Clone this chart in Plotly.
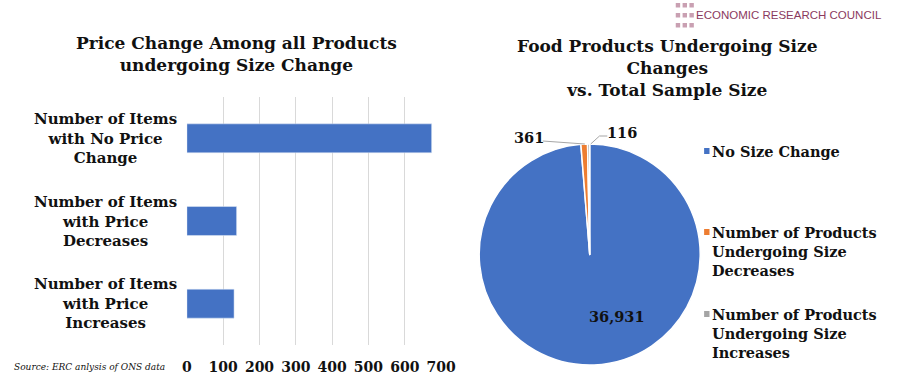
import plotly.graph_objects as go

# ---- data ----
bar_categories = ["Number of Items<br>with No Price<br>Change",
                  "Number of Items<br>with Price<br>Decreases",
                  "Number of Items<br>with Price<br>Increases"]
bar_values = [674, 137, 130]
x_ticks = [0, 100, 200, 300, 400, 500, 600, 700]

pie_labels = ["No Size Change",
              "Number of Products<br>Undergoing Size<br>Decreases",
              "Number of Products<br>Undergoing Size<br>Increases"]
pie_values = [36931, 361, 116]
pie_colors = ["#4472C4", "#ED7D31", "#A5A5A5"]

bar_title = "Price Change Among all Products<br>undergoing Size Change"
pie_title = "Food Products Undergoing Size<br>Changes<br>vs. Total Sample Size"
source_text = "Source: ERC anlysis of ONS data"
logo_text = "ECONOMIC RESEARCH COUNCIL"

W, H = 900, 379
FONT = "DejaVu Serif"
DARK = "#111111"


def px(x):
    return x / W


def py(y):
    return 1 - y / H


fig = go.Figure()

fig.add_trace(go.Bar(
    x=bar_values, y=bar_categories, orientation="h",
    marker=dict(color="#4472C4"), width=0.35,
    xaxis="x", yaxis="y", showlegend=False, hoverinfo="x",
))

fig.add_trace(go.Pie(
    labels=pie_labels, values=pie_values, sort=False, direction="clockwise",
    rotation=0, marker=dict(colors=pie_colors, line=dict(color="white", width=1.5)),
    textinfo="none", showlegend=False,
    domain=dict(x=[px(478), px(718)], y=[py(365), py(144)]),
))

annotations = []
shapes = []

# bar category labels (centered multi-line)
for cat in bar_categories:
    annotations.append(dict(
        x=px(103), y=cat, xref="paper", yref="y", text=f"<b>{cat}</b>",
        showarrow=False, align="center", xanchor="center", yanchor="middle",
        font=dict(family=FONT, size=15, color=DARK),
    ))

# titles
annotations.append(dict(x=px(237), y=py(54), xref="paper", yref="paper",
                        text=f"<b>{bar_title}</b>", showarrow=False, align="center",
                        xanchor="center", yanchor="middle",
                        font=dict(family=FONT, size=17, color=DARK)))
annotations.append(dict(x=px(678), y=py(68), xref="paper", yref="paper",
                        text=f"<b>{pie_title}</b>", showarrow=False, align="center",
                        xanchor="center", yanchor="middle",
                        font=dict(family=FONT, size=17, color=DARK)))

# source
annotations.append(dict(x=px(7), y=py(367), xref="paper", yref="paper",
                        text=f"<i>{source_text}</i>", showarrow=False,
                        xanchor="left", yanchor="middle",
                        font=dict(family=FONT, size=9, color=DARK)))

# pie value labels
annotations.append(dict(x=px(536), y=py(137), xref="paper", yref="paper",
                        text=f"<b>{pie_values[1]:,}</b>", showarrow=False,
                        xanchor="center", yanchor="middle",
                        font=dict(family=FONT, size=14.5, color=DARK)))
annotations.append(dict(x=px(631), y=py(132), xref="paper", yref="paper",
                        text=f"<b>{pie_values[2]:,}</b>", showarrow=False,
                        xanchor="center", yanchor="middle",
                        font=dict(family=FONT, size=14.5, color=DARK)))
annotations.append(dict(x=px(626), y=py(316), xref="paper", yref="paper",
                        text=f"<b>{pie_values[0]:,}</b>", showarrow=False,
                        xanchor="center", yanchor="middle",
                        font=dict(family=FONT, size=14.5, color=DARK)))

# leader lines
shapes.append(dict(type="line", xref="paper", yref="paper", x0=px(550), y0=py(141),
                   x1=px(593), y1=py(144), line=dict(color="#A6A6A6", width=1)))
shapes.append(dict(type="path", xref="paper", yref="paper",
                   path=f"M {px(599)},{py(144)} L {px(608)},{py(136)} L {px(616)},{py(136)}",
                   line=dict(color="#A6A6A6", width=1)))

# manual legend
legend_items = [(151, 0), (232, 1), (314, 2)]
for ymid, idx in legend_items:
    shapes.append(dict(type="rect", xref="paper", yref="paper",
                       x0=px(715), x1=px(720.5), y0=py(ymid + 3), y1=py(ymid - 3),
                       fillcolor=pie_colors[idx], line=dict(width=0)))
    annotations.append(dict(x=px(721), y=py(ymid - 10), xref="paper", yref="paper",
                            text=f"<b>{pie_labels[idx]}</b>", showarrow=False,
                            align="left", xanchor="left", yanchor="top",
                            font=dict(family=FONT, size=14.5, color=DARK)))

# logo
for cx in [686, 693, 700]:
    for cy in [3, 13, 23]:
        shapes.append(dict(type="rect", xref="paper", yref="paper",
                           x0=px(cx), x1=px(cx + 4.5), y0=py(cy + 4.5), y1=py(cy),
                           fillcolor="#C9A0B2", line=dict(width=0)))
annotations.append(dict(x=px(705), y=py(15), xref="paper", yref="paper",
                        text=logo_text, showarrow=False, xanchor="left", yanchor="middle",
                        font=dict(family="Liberation Sans", size=11.5, color="#8B3A5E")))

fig.update_layout(
    width=W, height=H, margin=dict(l=0, r=0, t=0, b=0),
    paper_bgcolor="white", plot_bgcolor="white",
    xaxis=dict(domain=[px(186), px(446)], range=[0, 700], tickvals=x_ticks,
               ticktext=[f"<b>{v}</b>" for v in x_ticks],
               showgrid=True, gridcolor="#D9D9D9", gridwidth=1, zeroline=False,
               showline=False, ticks="", ticklabelstandoff=12,
               tickfont=dict(family=FONT, size=14, color=DARK), fixedrange=True),
    yaxis=dict(domain=[py(345), py(97)], autorange="reversed", showticklabels=False,
               showgrid=False, zeroline=False, showline=False, ticks="", fixedrange=True),
    annotations=annotations, shapes=shapes, bargap=0.65,
)

fig.write_html(
    "out.html",
    config={"displayModeBar": False},
    post_script=("var s=document.createElement('style');"
                 "s.innerHTML='html,body{margin:0;padding:0;overflow:hidden;"
                 "width:900px;height:379px;} body>div{display:block;line-height:0;}';"
                 "document.head.appendChild(s);"),
)
